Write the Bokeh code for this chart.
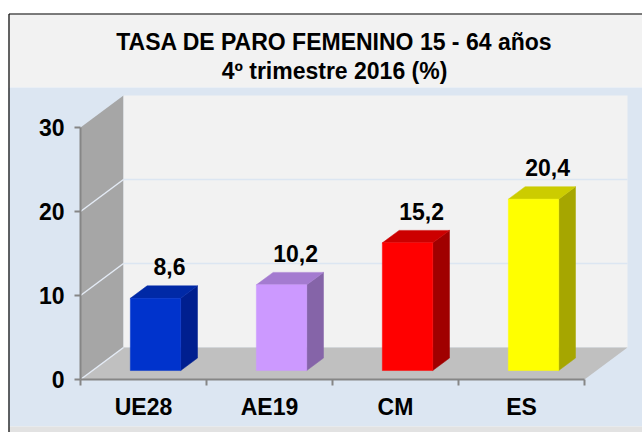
from bokeh.plotting import figure
from bokeh.models import Range1d, FixedTicker
from bokeh.core.properties import value
from bokeh.embed import file_html
from bokeh.resources import INLINE

# ---------------- data ----------------
categories = ["UE28", "AE19", "CM", "ES"]
rates = [8.6, 10.2, 15.2, 20.4]
y_ticks = [0, 10, 20, 30]
title_lines = ["TASA DE PARO FEMENINO  15 - 64 años", "4º trimestre 2016 (%)"]

# ---------------- styles ----------------
front_colors = ["#0033CC", "#CC99FF", "#FF0000", "#FFFF00"]
top_colors = ["#0029A6", "#A47BD0", "#CC0000", "#CCCC00"]
side_colors = ["#001F8F", "#8564A8", "#A00000", "#A6A600"]
FONT = "Liberation Sans"
BG_BLUE = "#DCE6F2"
BG_GRAY = "#F2F2F2"
AXIS_GRAY = "#868686"

W, H = 642, 432
n = len(categories)
Y_MAX = y_ticks[-1]

# layout geometry (canvas pixels)
X0_PX, Y0_PX = 80.0, 379.0   # where the front axes cross
PX_X = 126.0                 # pixels per category
PX_Y = 8.4                   # pixels per percent unit


def xd(px):
    return (px - X0_PX) / PX_X


def yd(py):
    return (Y0_PX - py) / PX_Y


DX = 43 / PX_X        # depth offset of the back wall, x
DY = 32 / PX_Y        # depth offset of the back wall, y
F0, F1 = 0.28, 0.67   # bar depth fractions
BAR_W = 0.40
LABEL_DX = 14 / PX_X
LABEL_DY = 19 / PX_Y

p = figure(width=W, height=H, x_range=Range1d(xd(0), xd(W)), y_range=Range1d(yd(H), yd(0)),
           output_backend="svg", toolbar_location=None, min_border=0,
           background_fill_color="white", border_fill_color="white",
           outline_line_color=None)
p.xgrid.visible = False
p.ygrid.visible = False

# chart box: title band, plot area, bottom strip, border
p.quad(left=xd(8), right=xd(W), top=yd(13), bottom=yd(87), fill_color=BG_GRAY, line_color=None)
p.quad(left=xd(8), right=xd(W), top=yd(87), bottom=yd(426), fill_color=BG_BLUE, line_color=None)
p.quad(left=xd(8), right=xd(W), top=yd(426), bottom=yd(H), fill_color="#E2E2E2", line_color=None)
p.line([xd(8.5), xd(W)], [yd(13.5), yd(13.5)], line_color="black", line_width=1.2)
p.line([xd(8.5), xd(8.5)], [yd(13.5), yd(H)], line_color="black", line_width=1.2)

p.text(x=[xd(337), xd(334)], y=[yd(41), yd(70)], text=title_lines,
       text_font=value(FONT), text_font_style="bold", text_font_size="23px",
       text_align="center", text_baseline="alphabetic", text_color="black")

# walls
p.patch([0, 0, DX, DX], [0, Y_MAX, Y_MAX + DY, DY], fill_color="#A6A6A6", line_color=None)
p.patch([DX, DX, n + DX, n + DX], [DY, Y_MAX + DY, Y_MAX + DY, DY], fill_color=BG_GRAY, line_color=None)
p.patch([0, n, n + DX, DX], [0, 0, DY, DY], fill_color="#C0C0C0", line_color=None)

# gridlines on walls
for t in y_ticks[1:-1]:
    p.line([DX, n + DX], [t + DY, t + DY], line_color=BG_BLUE, line_width=1.5)
for t in y_ticks[:-1]:
    p.line([0, DX], [t, t + DY], line_color="#E4EBF5", line_width=1.5)

# bars
fx, fy, tx, ty, sx, sy = [], [], [], [], [], []
lx, ly, ltext = [], [], []
ddx = (F1 - F0) * DX
ddy = (F1 - F0) * DY
for i, v in enumerate(rates):
    x0 = i + 0.5 - BAR_W / 2 + F0 * DX
    x1 = x0 + BAR_W
    yb = F0 * DY
    yt = yb + v
    fx.append([x0, x1, x1, x0]); fy.append([yb, yb, yt, yt])
    tx.append([x0, x1, x1 + ddx, x0 + ddx]); ty.append([yt, yt, yt + ddy, yt + ddy])
    sx.append([x1, x1 + ddx, x1 + ddx, x1]); sy.append([yb, yb + ddy, yt + ddy, yt])
    lx.append(i + 0.5 + F0 * DX + LABEL_DX)
    ly.append(yt + ddy + LABEL_DY)
    ltext.append(f"{v:.1f}".replace(".", ","))

p.patches(xs=sx, ys=sy, fill_color=side_colors, line_color=side_colors, line_width=0.5)
p.patches(xs=tx, ys=ty, fill_color=top_colors, line_color=top_colors, line_width=0.5)
p.patches(xs=fx, ys=fy, fill_color=front_colors, line_color=front_colors, line_width=0.5)

p.text(x=lx, y=ly, text=ltext, text_font=value(FONT), text_font_style="bold",
       text_font_size="23px", text_align="center", text_baseline="alphabetic",
       text_color="black")

# y axis (drawn at x = 0)
p.yaxis.fixed_location = 0
p.yaxis.ticker = FixedTicker(ticks=y_ticks)
p.yaxis.bounds = (0, Y_MAX)
p.yaxis.axis_line_color = AXIS_GRAY
p.yaxis.axis_line_width = 2
p.yaxis.major_tick_line_color = AXIS_GRAY
p.yaxis.major_tick_line_width = 2
p.yaxis.major_tick_out = 6
p.yaxis.major_tick_in = 0
p.yaxis.minor_tick_line_color = None
p.yaxis.major_label_standoff = 10
p.yaxis.major_label_text_font = FONT
p.yaxis.major_label_text_font_style = "bold"
p.yaxis.major_label_text_font_size = "23px"
p.yaxis.major_label_text_color = "black"

# x axis (drawn at y = 0)
centers = [i + 0.5 for i in range(n)]
p.xaxis.fixed_location = 0
p.xaxis.ticker = FixedTicker(ticks=centers, minor_ticks=list(range(n + 1)))
p.xaxis.major_label_overrides = {c: cat for c, cat in zip(centers, categories)}
p.xaxis.bounds = (0, n)
p.xaxis.axis_line_color = AXIS_GRAY
p.xaxis.axis_line_width = 2
p.xaxis.major_tick_line_color = None
p.xaxis.major_tick_out = 0
p.xaxis.major_tick_in = 0
p.xaxis.minor_tick_line_color = AXIS_GRAY
p.xaxis.minor_tick_line_width = 2
p.xaxis.minor_tick_out = 6
p.xaxis.minor_tick_in = 0
p.xaxis.major_label_standoff = 8
p.xaxis.major_label_text_font = FONT
p.xaxis.major_label_text_font_style = "bold"
p.xaxis.major_label_text_font_size = "23px"
p.xaxis.major_label_text_color = "black"

open("out.html", "w").write(file_html(p, INLINE))
